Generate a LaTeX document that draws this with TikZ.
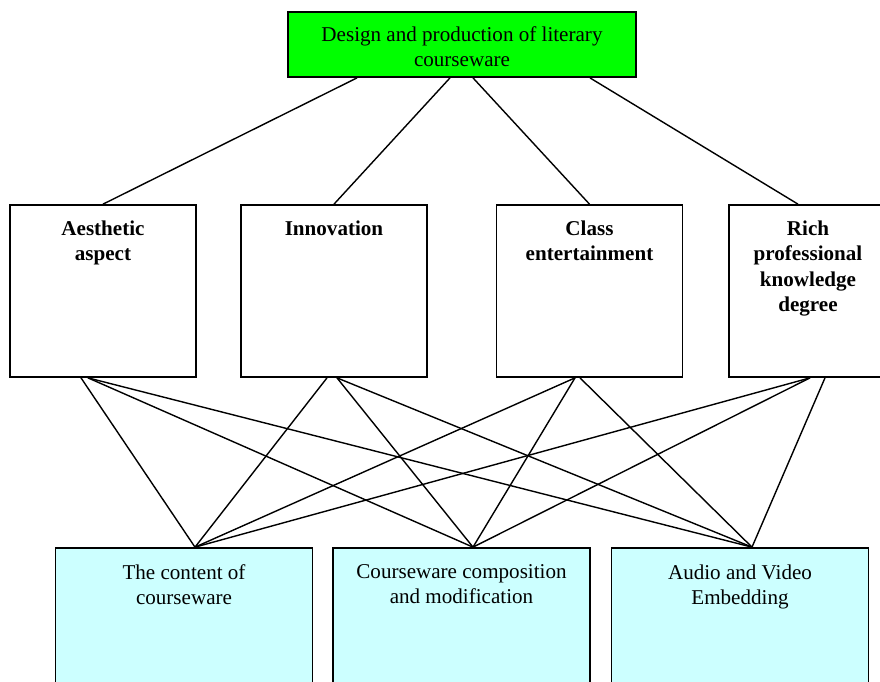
\documentclass[tikz,border=0pt]{standalone}
\usepackage{fontspec}
\setmainfont{Liberation Serif}
\usetikzlibrary{calc,positioning}

\definecolor{topgreen}{RGB}{0,255,0}
\definecolor{lowcyan}{RGB}{204,255,255}

\tikzset{
    box/.style={draw, line width=1pt, inner sep=0pt, minimum width=3.72cm, minimum height=3.44cm},
    lowbox/.style={box, fill=lowcyan, minimum width=5.14cm},
    intext/.style={anchor=north, align=center, inner sep=0pt, font=\fontsize{12}{14.5}\selectfont},
    link/.style={line width=0.8pt}
}

\begin{document}
\begin{tikzpicture}[x=0.02cm, y=-0.02cm]

        \useasboundingbox (0,0) rectangle (880,681);
        \clip (0,0) rectangle (880,681);

        % top
        \node[draw, line width=1pt, fill=topgreen, minimum width=6.96cm, minimum height=1.3cm, align=center, font=\fontsize{12}{15}\selectfont, label={[intext, label distance=-0.3cm]90:{Design and production of literary\\courseware}}] (top) at (462,44.5) {};

        % criteria
        \node[box, label={[intext, label distance=-0.32cm]90:{\textbf{Aesthetic}\\\textbf{aspect}}}] (aes) at (103,291) {};
        \node[box, label={[intext, label distance=-0.32cm]90:{\textbf{Innovation}}}] (inn) at (334,291) {};
        \node[box, label={[intext, label distance=-0.32cm]90:{\textbf{Class}\\\textbf{entertainment}}}] (cls) at (589.5,291) {};
        \node[box, minimum width=3.16cm, label={[intext, label distance=-0.32cm]90:{\textbf{Rich}\\\textbf{professional}\\\textbf{knowledge}\\\textbf{degree}}}] (rich) at (808,291) {};

        % parts
        \node[lowbox, label={[intext, label distance=-0.34cm]90:{The content of\\courseware}}] (cont) at (184,634) {};
        \node[lowbox, label={[intext, label distance=-0.34cm]90:{Courseware composition\\and modification}}] (comp) at (461.5,634) {};
        \node[lowbox, label={[intext, label distance=-0.34cm]90:{Audio and Video\\Embedding}}] (av) at (740,634) {};

        \draw[link] ([xshift=-2.1cm]top.south) -- (aes.north);
        \draw[link] ([xshift=-0.24cm]top.south) -- (inn.north);
        \draw[link] ([xshift=0.22cm]top.south) -- (cls.north);
        \draw[link] ([xshift=2.56cm]top.south) -- ([xshift=-0.2cm]rich.north);

        \draw[link] ([xshift=-0.44cm]aes.south) -- ([xshift=0.22cm]cont.north);
        \draw[link] ([xshift=-0.3cm]aes.south) -- ([xshift=0.23cm]comp.north);
        \draw[link] ([xshift=-0.3cm]aes.south) -- ([xshift=0.24cm]av.north);

        \draw[link] ([xshift=-0.14cm]inn.south) -- ([xshift=0.22cm]cont.north);
        \draw[link] ([xshift=0.06cm]inn.south) -- ([xshift=0.23cm]comp.north);
        \draw[link] ([xshift=0.06cm]inn.south) -- ([xshift=0.24cm]av.north);

        \draw[link] ([xshift=-0.29cm]cls.south) -- ([xshift=0.22cm]cont.north);
        \draw[link] ([xshift=-0.29cm]cls.south) -- ([xshift=0.23cm]comp.north);
        \draw[link] ([xshift=-0.19cm]cls.south) -- ([xshift=0.24cm]av.north);

        \draw[link] ([xshift=0.04cm]rich.south) -- ([xshift=0.22cm]cont.north);
        \draw[link] ([xshift=0.04cm]rich.south) -- ([xshift=0.23cm]comp.north);
        \draw[link] ([xshift=0.34cm]rich.south) -- ([xshift=0.24cm]av.north);

\end{tikzpicture}
\end{document}
